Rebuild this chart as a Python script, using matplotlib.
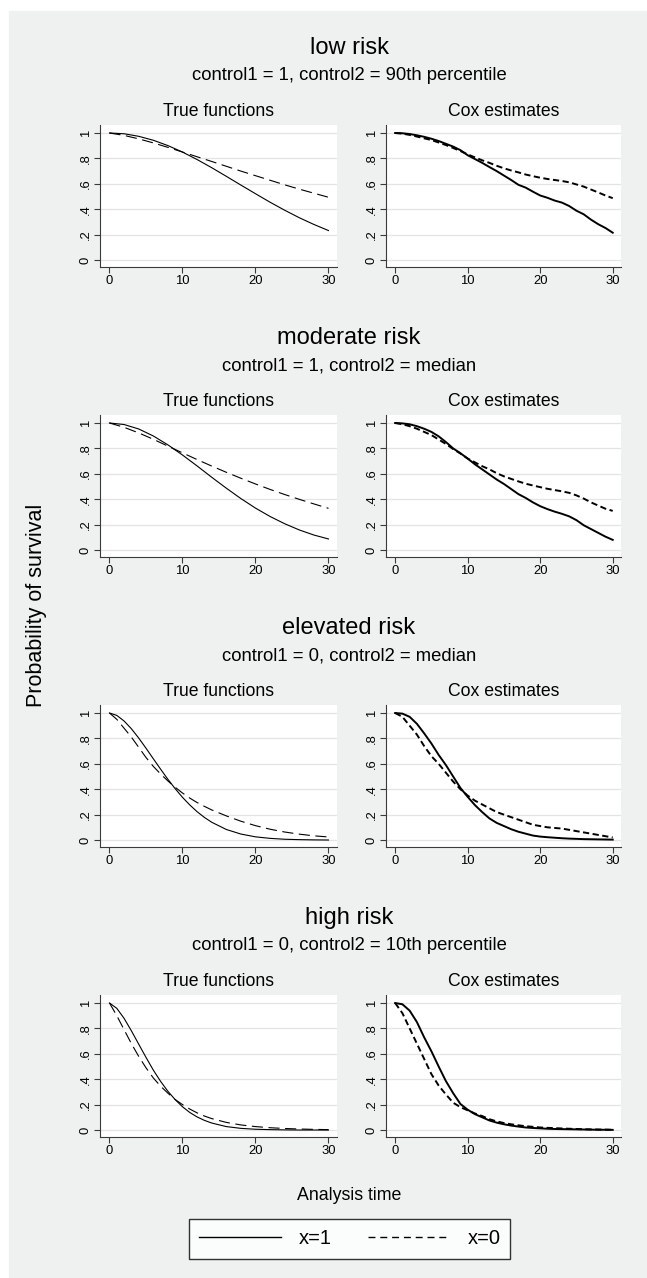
import numpy as np
import matplotlib.pyplot as plt
from matplotlib.patches import Rectangle
from matplotlib.lines import Line2D

plt.rcParams['font.family'] = ['Liberation Sans', 'DejaVu Sans']
plt.rcParams['lines.scale_dashes'] = False

# figure size in pixels
W, H = 647, 1278

groups = ['low risk', 'moderate risk', 'elevated risk', 'high risk']
subtitles = ['control1 = 1, control2 = 90th percentile',
             'control1 = 1, control2 = median',
             'control1 = 0, control2 = median',
             'control1 = 0, control2 = 10th percentile']
panel_titles = ['True functions', 'Cox estimates']
legend_labels = ['x=1', 'x=0']
xticks = [0, 10, 20, 30]
yticks = [0, 0.2, 0.4, 0.6, 0.8, 1]
ytick_labels = ['0', '.2', '.4', '.6', '.8', '1']

# time grids
t_slow = [0, 2, 4, 6, 8, 10, 12, 14, 16, 18, 20, 22, 24, 26, 28, 30]
t_fast = [0, 1, 2, 3, 4, 5, 6, 7, 8, 9, 10, 11, 12, 13, 14,
          16, 18, 20, 22, 24, 26, 28, 30]
t_cox = list(range(31))

# true survival functions
true_low_x1 = [1.0, .994, .974, .943, .901, .850, .791, .727, .659, .590,
               .522, .455, .392, .333, .280, .232]
true_low_x0 = [1.0, .981, .954, .922, .887, .850, .813, .776, .738, .700,
               .664, .628, .592, .558, .526, .494]
true_mod_x1 = [1.0, .988, .953, .898, .828, .748, .662, .573, .487, .405,
               .330, .264, .207, .158, .118, .087]
true_mod_x0 = [1.0, .966, .922, .872, .818, .765, .712, .661, .612, .565,
               .520, .477, .437, .399, .363, .328]
true_elev_x1 = [1.0, .981, .937, .876, .803, .723, .640, .558, .478, .404,
                .336, .276, .223, .178, .140, .083, .047, .025, .013, .006,
                .003, .001, .0]
true_elev_x0 = [1.0, .95, .88, .81, .73, .65, .58, .52, .465, .415,
                .37, .33, .295, .265, .237, .19, .148, .113, .085, .063,
                .046, .033, .024]
true_high_x1 = [1.0, .958, .879, .781, .676, .572, .472, .383, .305, .239,
                .183, .138, .103, .076, .055, .027, .013, .006, .003, .001,
                .0, .0, .0]
true_high_x0 = [1.0, .90, .79, .68, .58, .49, .41, .345, .29, .24,
                .20, .165, .135, .11, .09, .06, .04, .027, .018, .012,
                .008, .005, .003]

# Cox estimates
cox_low_x1 = [1.0, .998, .992, .982, .970, .955, .937, .915, .893, .865,
              .825, .795, .765, .732, .700, .665, .630, .592, .570, .538,
              .508, .490, .468, .452, .425, .388, .360, .318, .282, .252, .215]
cox_low_x0 = [1.0, .995, .985, .972, .958, .945, .925, .905, .882, .858,
              .832, .808, .785, .765, .742, .722, .705, .690, .673, .660,
              .648, .638, .630, .622, .612, .595, .578, .555, .532, .508, .487]
cox_mod_x1 = [1.0, .997, .990, .975, .955, .930, .895, .850, .800, .762,
              .720, .675, .635, .595, .555, .520, .480, .440, .410, .375,
              .345, .322, .302, .285, .265, .235, .195, .165, .135, .105, .080]
cox_mod_x0 = [1.0, .990, .975, .955, .930, .905, .870, .835, .795, .760,
              .720, .690, .660, .635, .605, .580, .560, .540, .522, .508,
              .495, .482, .472, .462, .450, .430, .405, .375, .350, .325, .308]
cox_elev_x1 = [1.0, .995, .970, .915, .840, .760, .670, .590, .500, .410,
               .340, .275, .220, .170, .135, .110, .085, .065, .050, .035,
               .027, .022, .018, .014, .011, .009, .007, .006, .005, .004, .003]
cox_elev_x0 = [1.0, .970, .900, .830, .740, .660, .600, .530, .460, .400,
               .350, .310, .280, .250, .220, .200, .180, .160, .140, .120,
               .110, .100, .095, .090, .080, .070, .060, .050, .040, .030, .020]
cox_high_x1 = [1.0, .990, .940, .850, .730, .620, .500, .385, .290, .205,
               .160, .125, .100, .075, .058, .045, .035, .027, .020, .016,
               .013, .010, .008, .007, .006, .005, .004, .003, .002, .002, .001]
cox_high_x0 = [1.0, .920, .800, .680, .560, .440, .350, .280, .215, .180,
               .155, .130, .110, .085, .068, .055, .045, .037, .030, .025,
               .020, .017, .015, .012, .010, .008, .006, .005, .004, .003, .002]

true_times = [t_slow, t_slow, t_fast, t_fast]
true_x1 = [true_low_x1, true_mod_x1, true_elev_x1, true_high_x1]
true_x0 = [true_low_x0, true_mod_x0, true_elev_x0, true_high_x0]
cox_x1 = [cox_low_x1, cox_mod_x1, cox_elev_x1, cox_high_x1]
cox_x0 = [cox_low_x0, cox_mod_x0, cox_elev_x0, cox_high_x0]

bg = '#eff1f1'
axcol = '#3a3a3a'

fig = plt.figure(figsize=(W / 100, H / 100), dpi=100)
fig.patch.set_facecolor('white')
fig.patches.append(Rectangle((9 / W, 0), 1 - 9 / W, 1 - 11 / H,
                             transform=fig.transFigure, color=bg, zorder=-10))


def fy(y):
    return 1 - y / H


cols = [(100.3, 336.8), (386.0, 621.0)]
for r in range(4):
    off = 290 * r
    fig.text(349 / W, fy(48 + off), groups[r], ha='center', va='center', fontsize=17)
    fig.text(349 / W, fy(76 + off), subtitles[r], ha='center', va='center', fontsize=13.3)
    for c, (left, right) in enumerate(cols):
        ax = fig.add_axes([left / W, fy(267 + off), (right - left) / W, 142 / H])
        ax.set_facecolor('white')
        if c == 0:
            ax.plot(true_times[r], true_x1[r], color='black', lw=0.8)
            ax.plot(true_times[r], true_x0[r], color='black', lw=0.8, ls=(0, (8, 4)))
        else:
            ax.plot(t_cox, cox_x1[r], color='black', lw=1.4)
            ax.plot(t_cox, cox_x0[r], color='black', lw=1.4, ls=(0, (4.5, 2.5)))
        ax.set_xlim(-1.26, 31.14)
        ax.set_ylim(-0.055, 1.063)
        ax.set_xticks(xticks)
        ax.set_yticks(yticks)
        ax.set_yticklabels(ytick_labels, rotation=90, va='center')
        ax.yaxis.grid(True, color='#e4e4e4', lw=0.9)
        ax.set_axisbelow(True)
        for s in ['top', 'right']:
            ax.spines[s].set_visible(False)
        for s in ['left', 'bottom']:
            ax.spines[s].set_color(axcol)
            ax.spines[s].set_linewidth(0.8)
        ax.tick_params(direction='out', length=4, width=0.8, color=axcol,
                       labelsize=9.4, pad=2)
        fig.text((left + right) / 2 / W, fy(112 + off), panel_titles[c],
                 ha='center', va='center', fontsize=12.7)

fig.text(349 / W, fy(1196), 'Analysis time', ha='center', va='center', fontsize=12.8)
fig.text(37 / W, fy(605), 'Probability of survival', ha='center', va='center',
         rotation=90, fontsize=15.5)

handles = [Line2D([], [], color='black', lw=1.0),
           Line2D([], [], color='black', lw=1.0, ls=(0, (5, 3.5)))]
leg = fig.legend(handles, legend_labels, loc='center',
                 bbox_to_anchor=(349.5 / W, fy(1239)), ncol=2, fontsize=14.5,
                 frameon=True, fancybox=False, edgecolor='black',
                 handlelength=4.1, handletextpad=0.85, columnspacing=1.8,
                 borderpad=0.5)
leg.get_frame().set_linewidth(1.0)
leg.get_frame().set_facecolor('white')

fig.savefig('out.png', dpi=100, facecolor=fig.get_facecolor())
